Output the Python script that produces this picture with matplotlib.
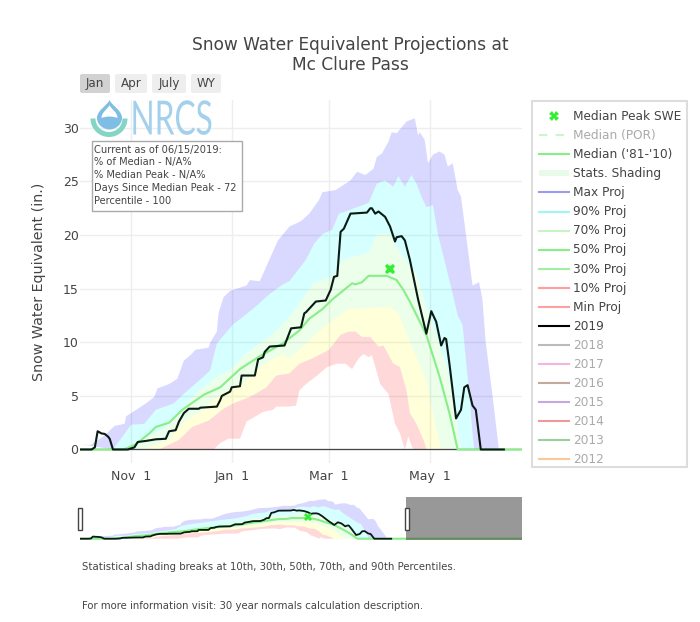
import numpy as np
import matplotlib
matplotlib.use('Agg')
import matplotlib.pyplot as plt
from matplotlib.lines import Line2D
from matplotlib.patches import Patch, Rectangle, FancyBboxPatch, Wedge, PathPatch
from matplotlib.path import Path
from matplotlib.patheffects import AbstractPathEffect
from matplotlib.transforms import Affine2D

# all x values are days since Oct 1
tick_days = [31, 92, 151, 212]
tick_labels = ['Nov  1', 'Jan  1', 'Mar  1', 'May  1']
y_ticks = [0, 5, 10, 15, 20, 25, 30]

year_days = [0, 7, 9, 10.7, 13, 15, 17, 18, 20, 29, 33, 35, 40, 46, 52, 54, 58, 60, 63, 66, 72, 73, 83, 85, 86, 91, 92, 97, 98, 106, 108, 111, 112, 115, 124, 128, 134, 136, 137, 143, 149, 152, 154, 156, 158, 160, 164, 174, 176, 177, 179, 181, 185, 188, 191, 192, 195, 197, 200, 205, 210, 213, 216, 219, 221, 222, 224, 228, 231, 233, 235, 238, 240, 243, 257]
year_vals = [0, 0, 0.2, 1.7, 1.5, 1.45, 1.2, 1.0, 0, 0, 0.2, 0.7, 0.8, 0.95, 1.0, 1.7, 1.8, 2.6, 3.4, 3.8, 3.8, 3.9, 4.0, 4.6, 5.0, 5.4, 5.8, 5.9, 6.9, 6.9, 8.4, 8.6, 9.1, 9.6, 9.7, 11.3, 11.4, 12.7, 12.8, 13.8, 13.9, 14.9, 16.1, 16.2, 20.3, 20.6, 22, 22.1, 22.5, 22.5, 22, 22.2, 21.7, 20.8, 19.4, 19.8, 19.9, 19.5, 17.7, 14.0, 10.8, 12.9, 11.9, 9.7, 10.4, 10.3, 8, 2.9, 3.7, 5.8, 6, 4.1, 3.7, 0, 0]

median_days = [0, 26, 29, 34, 42, 46, 54, 62, 75, 85, 97, 109, 123, 133, 139, 147, 153, 165, 167, 171, 175, 186, 192, 196, 200, 210, 218, 224, 229, 365]
median_vals = [0, 0, 0.15, 0.5, 1.5, 2.1, 2.5, 3.7, 5.1, 5.8, 7.5, 8.7, 9.9, 11.1, 12.2, 13.1, 14, 15.5, 15.4, 15.6, 16.2, 16.2, 15.8, 14.9, 13.8, 10.7, 6.8, 3.4, 0, 0]

peak_day = [188]
peak_val = [16.8]

max_days = [0, 6, 14, 21, 27, 28, 35, 40, 45, 47, 54, 59, 63, 67, 70, 78, 79, 83, 84, 87, 91, 101, 103, 109, 120, 127, 134, 139, 145, 147, 155, 164, 168, 173, 178, 180, 183, 187, 189, 192, 198, 203, 205, 206, 209, 211, 214, 218, 221, 223, 226, 229, 231, 235, 238, 242, 244, 246, 250, 254, 257]
max_vals = [0.5, 0.4, 1.2, 2.2, 2.4, 3.1, 3.8, 4.3, 4.9, 5.7, 6.1, 6.6, 8.3, 8.8, 9.3, 9.5, 10, 11, 12.7, 14.2, 14.8, 15.3, 15.8, 15.7, 19.5, 20.8, 21.3, 22, 23.3, 24, 24.2, 25.1, 25.9, 25.6, 26.2, 27.3, 27.6, 28.7, 29.6, 29.5, 30.6, 30.9, 29.3, 29.6, 28.9, 26.7, 27.5, 27.8, 27.5, 26.4, 26.7, 24.2, 23.6, 18.9, 15.3, 15.6, 14, 10, 5.2, 0, 0]

p90_days = [20, 31, 39, 46, 57, 63, 75, 79, 83, 93, 100, 107, 115, 123, 127, 137, 142, 147, 153, 157, 161, 175, 180, 185, 190, 193, 197, 201, 204, 207, 210, 214, 217, 222, 226, 229, 232, 234, 236, 238, 239]
p90_vals = [0, 2.3, 2.4, 3.7, 4.3, 5.2, 6.8, 7.4, 9.9, 11.7, 12.5, 13.4, 14.5, 15.4, 15.7, 17.7, 19.2, 20.1, 20.5, 22, 22.2, 23, 24.8, 25.1, 24.5, 25.5, 24.5, 25.6, 24.8, 23.6, 22.6, 22.8, 20.1, 17, 14.5, 12.5, 11.6, 8.3, 5.2, 1.5, 0]

p70_days = [30, 42, 52, 60, 70, 83, 91, 99, 109, 119, 127, 133, 139, 142, 153, 159, 175, 180, 188, 190, 196, 204, 207, 211, 216, 222, 226, 229, 231]
p70_vals = [0.1, 1.3, 2.1, 3.4, 5.2, 6.8, 7.4, 8.8, 9.9, 11.1, 12.4, 13.6, 15, 15.6, 16.1, 17.7, 18.4, 20.1, 20.1, 19.4, 18, 16.4, 14.9, 13, 10.6, 8, 5, 2, 0]

p30_days = [38, 54, 58, 64, 72, 83, 93, 100, 107, 115, 123, 127, 137, 150, 163, 188, 193, 204, 210, 214, 219]
p30_vals = [0, 0.9, 1.8, 2.7, 3.4, 4.9, 5.8, 6.3, 7.4, 8.3, 8.9, 8.5, 9.9, 11.7, 13.1, 13.3, 12.7, 8.6, 6.5, 3.4, 0]

p10_days = [48, 60, 68, 78, 87, 93, 103, 113, 119, 127, 133, 141, 151, 158, 163, 167, 171, 176, 181, 184, 190, 194, 198, 200, 204, 209, 210]
p10_vals = [0, 0.9, 2.1, 2.7, 3.8, 4.3, 4.9, 5.8, 6.9, 7.1, 8, 8.5, 9.3, 10.7, 11, 11, 10.5, 10.5, 9.6, 9.7, 8, 7.7, 5.5, 3.4, 2.4, 0.6, 0]

min_days = [81, 85, 90, 97, 101, 111, 117, 119, 127, 131, 133, 137, 143, 150, 156, 161, 165, 169, 172, 175, 177, 182, 187, 191, 194, 197, 199, 202]
min_vals = [0, 0.6, 1, 1, 2.6, 3.5, 3.7, 4, 4, 4.1, 5.5, 6.1, 6.8, 7.7, 8, 8, 7.5, 8.5, 8.9, 8.6, 8.8, 6.1, 5.2, 2.4, 1.5, 0, 1.2, 0]

band_tops = [(max_days, max_vals), (p90_days, p90_vals), (p70_days, p70_vals), (p30_days, p30_vals), (p10_days, p10_vals)]
band_bottoms = [(p90_days, p90_vals), (p70_days, p70_vals), (p30_days, p30_vals), (p10_days, p10_vals), (min_days, min_vals)]
band_colors = ['#0000ff', '#00ffff', '#00ff00', '#ffff00', '#ff0000']
band_alphas = [0.15, 0.16, 0.08, 0.15, 0.15]

legend_labels = ['Median Peak SWE', 'Median (POR)', "Median ('81-'10)", 'Stats. Shading', 'Max Proj', '90% Proj', '70% Proj',
                 '50% Proj', '30% Proj', '10% Proj', 'Min Proj', '2019', '2018', '2017', '2016', '2015', '2014', '2013', '2012']
legend_colors = ['#33ee33', '#c8f8c8', '#88ee88', '#e8fbe8', '#9a9aee', '#a0f5f5', '#c8f5c8', '#88ee88', '#a0f0a0', '#ff9f9f', '#ff9f9f',
                 '#000000', '#bbbbbb', '#f5b5e0', '#c4a8a0', '#c5a8e0', '#ec9a9a', '#98d098', '#fbc89a']
legend_faded = ['Median (POR)', '2018', '2017', '2016', '2015', '2014', '2013', '2012']

info_lines = ['Current as of 06/15/2019:', '% of Median - N/A%', '% Median Peak - N/A%', 'Days Since Median Peak - 72', 'Percentile - 100']

TXT = '#444444'
W, H = 700, 622


class SqueezeX(AbstractPathEffect):
    # logo lettering is much narrower than any installed font
    def __init__(self, sx, x0):
        super().__init__()
        self.sx = sx
        self.x0 = x0

    def draw_path(self, renderer, gc, tpath, affine, rgbFace=None):
        squeeze = Affine2D().translate(-self.x0, 0).scale(self.sx, 1).translate(self.x0, 0)
        renderer.draw_path(gc, tpath, affine + squeeze, rgbFace)


def draw_bands(ax):
    for top, bottom, color, alpha in zip(band_tops, band_bottoms, band_colors, band_alphas):
        xs = list(top[0]) + list(bottom[0])[::-1]
        ys = list(top[1]) + list(bottom[1])[::-1]
        ax.fill(xs, ys, color=color, alpha=alpha, lw=0, zorder=2)


fig = plt.figure(figsize=(W / 100, H / 100), dpi=100)

# main panel
ax = fig.add_axes([80 / W, 1 - 463 / H, 442 / W, 363 / H])
draw_bands(ax)
ax.axhline(0, color=TXT, lw=0.9, zorder=3)
ax.plot(median_days, median_vals, color='#88ee88', lw=1.5, zorder=4)
ax.plot(year_days, year_vals, color='#0a1a14', lw=1.5, zorder=5)
ax.plot(peak_day, peak_val, 'X', color='#33ee33', ms=7.5, mew=0, zorder=6)
ax.set_xlim(0, 268)
ax.set_ylim(-1.26, 32.6)
ax.set_xticks(tick_days)
ax.set_xticklabels(tick_labels)
ax.set_yticks(y_ticks)
ax.grid(color='#eeeeee', lw=1)
ax.set_axisbelow(True)
ax.tick_params(length=0, labelcolor=TXT, labelsize=9)
ax.tick_params(axis='x', pad=5)
ax.tick_params(axis='y', pad=1)
ax.set_ylabel('Snow Water Equivalent (in.)', fontsize=10.3, color=TXT, labelpad=12)
for s in ax.spines.values():
    s.set_visible(False)

# range slider panel, full water year
nav = fig.add_axes([80 / W, 1 - 540 / H, 442 / W, 43 / H])
draw_bands(nav)
nav.plot(median_days, median_vals, color='#88ee88', lw=1.5, zorder=4)
nav.plot(year_days, year_vals, color='#0a1a14', lw=1.3, zorder=5)
nav.plot(peak_day, peak_val, 'X', color='#33ee33', ms=6, mew=0, zorder=6)
nav.axvspan(269, 365, color='#444444', alpha=0.55, lw=0, zorder=7)
nav.set_xlim(0, 365)
nav.set_ylim(-1.0, 32.7)
nav.axis('off')

# everything placed by pixel goes on an overlay
over = fig.add_axes([0, 0, 1, 1], zorder=10)
over.set_xlim(0, W)
over.set_ylim(H, 0)
over.axis('off')

over.text(350, 44.5, 'Snow Water Equivalent Projections at', ha='center', va='center', fontsize=12.25, color=TXT)
over.text(350, 65.5, 'Mc Clure Pass', ha='center', va='center', fontsize=12.25, color=TXT)

for label, x0, x1, bg in [('Jan', 80, 110, '#d2d2d2'), ('Apr', 115, 147, '#eeeeee'),
                          ('July', 152, 186, '#eeeeee'), ('WY', 191, 221, '#eeeeee')]:
    over.add_patch(FancyBboxPatch((x0 + 1, 75), x1 - x0 - 2, 17, boxstyle='round,pad=1,rounding_size=2', fc=bg, ec='none'))
    over.text((x0 + x1) / 2, 83.5, label, ha='center', va='center', fontsize=8.6, color=TXT)

# logo
over.add_patch(Wedge((109, 118.5), 18.5, 0, 180, width=5, fc='#85d5c5', ec='none'))
drop = Path([(109.5, 100), (112, 106), (122, 110), (122, 118), (122, 125), (115, 129.5), (109.5, 129.5),
             (104, 129.5), (97, 125), (97, 118), (97, 110), (107, 106), (109.5, 100)],
            [Path.MOVETO] + [Path.CURVE4] * 12)
inner = Path([(109.5, 105), (111, 109), (117.5, 112), (117.5, 118), (112, 116), (107, 116), (101.5, 118),
              (101.5, 112), (108, 109), (109.5, 105)],
             [Path.MOVETO] + [Path.CURVE4] * 9)
over.add_patch(PathPatch(drop, fc='#7ebde4', ec='none'))
over.add_patch(PathPatch(inner, fc='white', ec='none'))
over.text(130.5, 134.5, 'NRCS', ha='left', va='baseline', fontsize=34, color='#a3d0ec', family='Lato',
          path_effects=[SqueezeX(0.67, 130.5)])

# info box
over.add_patch(Rectangle((91.7, 140.5), 150.6, 70, fc='white', ec='#aaaaaa', lw=1))
for i, line in enumerate(info_lines):
    over.text(94.5, 149.5 + i * 12.95, line, ha='left', va='center', fontsize=7.15, color=TXT)

# range slider handles
for x0 in [77.5, 404.5]:
    over.add_patch(Rectangle((x0, 508), 4.2, 22, fc='white', ec='#444444', lw=1))

over.text(82, 567, 'Statistical shading breaks at 10th, 30th, 50th, 70th, and 90th Percentiles.', ha='left', va='center', fontsize=7.3, color=TXT)
over.text(82, 606, 'For more information visit: 30 year normals calculation description.', ha='left', va='center', fontsize=7.25, color=TXT)

# legend, frame drawn by hand since its padding is uneven
over.add_patch(Rectangle((531.7, 100.7), 155.6, 366.6, fc='none', ec='#dddddd', lw=1.5))
handles = []
for label, color in zip(legend_labels, legend_colors):
    if label == 'Median Peak SWE':
        handles.append(Line2D([], [], ls='none', marker='X', ms=7, mew=0, color=color))
    elif label == 'Median (POR)':
        handles.append(Line2D([], [], ls=(0, (4, 4)), lw=1.5, color=color))
    elif label == 'Stats. Shading':
        handles.append(Patch(fc=color, ec='none'))
    else:
        handles.append(Line2D([], [], lw=1.5, color=color))
text_colors = ['#aaaaaa' if label in legend_faded else TXT for label in legend_labels]
fig.legend(handles, legend_labels, loc='upper left', bbox_to_anchor=(532 / W, 1 - 102.7 / H), borderaxespad=0,
           fontsize=8.7, labelcolor=text_colors, frameon=False,
           labelspacing=0.5, handlelength=2.45, handleheight=0.5, handletextpad=0.35, borderpad=0.62)

fig.savefig('out.png', dpi=100)
